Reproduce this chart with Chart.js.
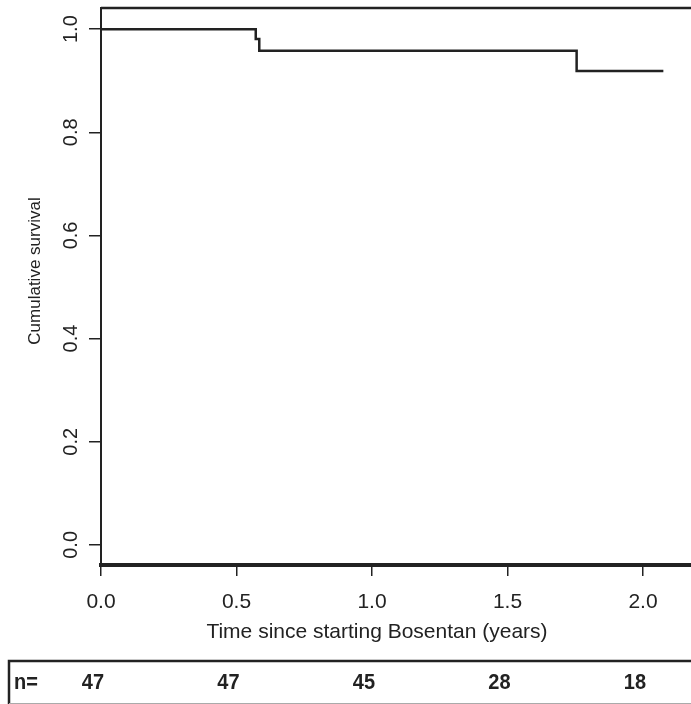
<!DOCTYPE html>
<html>
<head>
<meta charset="utf-8">
<script src="https://cdn.jsdelivr.net/npm/chart.js@4.4.1/dist/chart.umd.min.js"></script>
<style>
  body { margin: 0; background: #fff; }
  #wrap { width: 691px; height: 704px; }
</style>
</head>
<body>
<div id="wrap"><canvas id="km" width="691" height="704"></canvas></div>
<script>
// Kaplan-Meier curve
const times = [0, 0.571, 0.584, 1.755, 2.075];
const survival = [1.0, 0.981, 0.958, 0.919, 0.919];

// numbers at risk under the axis
const riskTimes = [0, 0.5, 1.0, 1.5, 2.0];
const atRisk = [47, 47, 45, 28, 18];

const yTicks = ['0.0', '0.2', '0.4', '0.6', '0.8', '1.0'];
const xTitle = 'Time since starting Bosentan (years)';
const yTitle = 'Cumulative survival';

const ink = '#222';
const font = 'Arial, "Liberation Sans", sans-serif';

const extras = {
    id: 'extras',
    afterDraw(chart) {
        const ctx = chart.ctx;
        const area = chart.chartArea;
        const x = chart.scales.x;
        const y = chart.scales.y;
        ctx.save();
        ctx.fillStyle = ink;
        ctx.strokeStyle = ink;

        // top of the plot box
        ctx.lineWidth = 2.5;
        ctx.beginPath();
        ctx.moveTo(area.left, 8);
        ctx.lineTo(area.right, 8);
        ctx.stroke();

        // rotated y tick labels
        ctx.font = '20px ' + font;
        ctx.textAlign = 'center';
        ctx.textBaseline = 'middle';
        yTicks.forEach(t => {
            ctx.save();
            ctx.translate(71, y.getPixelForValue(parseFloat(t)));
            ctx.rotate(-Math.PI / 2);
            ctx.fillText(t, 0, 0);
            ctx.restore();
        });

        // y title
        ctx.font = '17px ' + font;
        ctx.save();
        ctx.translate(35, 271);
        ctx.rotate(-Math.PI / 2);
        ctx.fillText(yTitle, 0, 0);
        ctx.restore();

        // x title
        ctx.font = '21px ' + font;
        ctx.fillText(xTitle, 377, 632);

        // risk table
        ctx.lineWidth = 2.5;
        ctx.beginPath();
        ctx.moveTo(9, 704);
        ctx.lineTo(9, 661);
        ctx.lineTo(691, 661);
        ctx.stroke();
        ctx.strokeStyle = '#aaa';
        ctx.lineWidth = 1;
        ctx.beginPath();
        ctx.moveTo(9, 703.5);
        ctx.lineTo(691, 703.5);
        ctx.stroke();

        // bold numbers, a little taller than plain Arial
        ctx.font = 'bold 20px ' + font;
        const cell = (txt, px, align) => {
            ctx.save();
            ctx.translate(px, 683);
            ctx.scale(1, 1.12);
            ctx.textAlign = align;
            ctx.fillText(txt, 0, 0);
            ctx.restore();
        };
        cell('n=', 14, 'left');
        riskTimes.forEach((t, i) => {
            cell(String(atRisk[i]), x.getPixelForValue(t) + 3, 'right');
        });
        ctx.restore();
    }
};

new Chart(document.getElementById('km'), {
    type: 'line',
    data: {
        datasets: [{
            data: times.map((t, i) => ({ x: t, y: survival[i] })),
            stepped: true,
            borderColor: ink,
            borderWidth: 2.5,
            pointRadius: 0,
            fill: false
        }]
    },
    options: {
        responsive: false,
        animation: false,
        layout: { padding: { top: 8, right: 0, left: 0, bottom: 0 } },
        plugins: { legend: { display: false }, tooltip: { enabled: false } },
        scales: {
            x: {
                type: 'linear',
                min: 0,
                max: 2.177,
                afterFit: s => { s.height = 139; },
                ticks: {
                    stepSize: 0.5,
                    includeBounds: false,
                    color: ink,
                    font: { family: font, size: 21 },
                    padding: 14,
                    maxRotation: 0,
                    callback: v => v.toFixed(1)
                },
                grid: { drawOnChartArea: false, tickLength: 11, lineWidth: 1.5, color: ink },
                border: { display: true, width: 4, color: ink }
            },
            y: {
                min: -0.039,
                max: 1.041,
                afterFit: s => { s.width = 101; },
                ticks: { stepSize: 0.2, includeBounds: false, display: false },
                grid: { drawOnChartArea: false, tickLength: 12, lineWidth: 1.5, color: ink },
                border: { display: true, width: 2, color: ink }
            }
        }
    },
    plugins: [extras]
});
</script>
</body>
</html>
